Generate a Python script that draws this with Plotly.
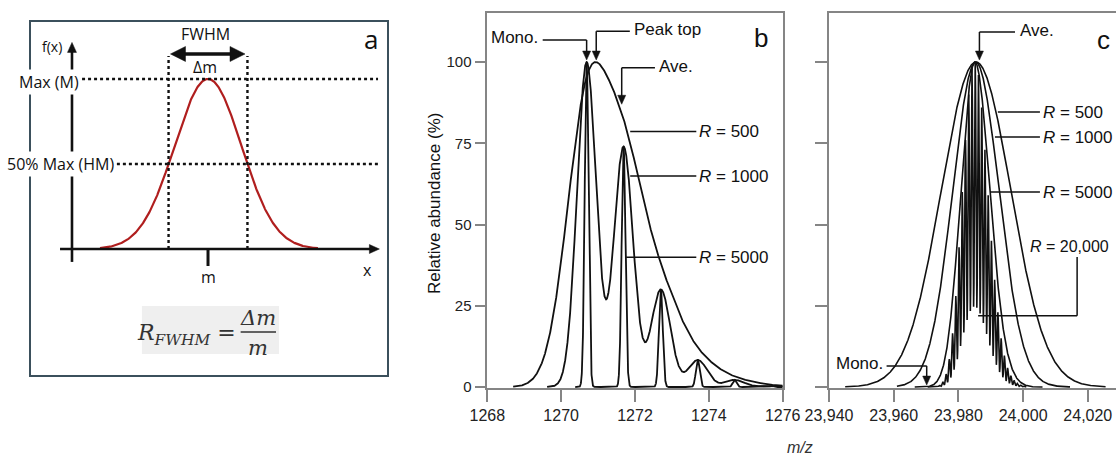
import numpy as np
import plotly.graph_objects as go

# ---------------- data ----------------
# panel a: schematic peak (arbitrary units)
a_center = 5.0          # m
a_fwhm = 2.9            # Δm
a_max = 1.0             # Max (M)
a_extent = [1.03, 9.04]

# panel b: peptide isotope sticks (m/z, relative abundance %)
b_iso_mz = [1270.69, 1271.69, 1272.70, 1273.70, 1274.70, 1275.70]
b_iso_ab = [100, 74, 30, 8.3, 2.2, 0.4]
b_res = [500, 1000, 5000]
b_sigma = [0.55, 0.26, 0.052]          # peak width (Da) read per resolution
b_start = [1268.7, 1269.62, 1270.38]
b_end = [1276.0, 1276.0, 1276.0]

# panel c: protein isotope sticks
c_mono = 23970.2
c_iso_n = [3, 4, 5, 6, 7, 8, 9, 10, 11, 12, 13, 14, 15, 16, 17, 18, 19, 20,
           21, 22, 23, 24, 25, 26, 27, 28, 29, 30]
c_iso_ab = [0.13, 0.5, 1.6, 4.0, 8.6, 16.5, 28, 43, 60, 76, 90, 98, 100, 96,
            86, 73, 59, 45, 33, 23, 15, 9.7, 5.9, 3.5, 2.0, 1.1, 0.6, 0.3]
c_res = [500, 1000, 5000, 20000]
c_sigma = [10.0, 6.0, 2.2, 0.245]
c_start = [23945.0, 23961.0, 23966.5, 23970.5]
c_end = [24025.5, 24014.5, 24006.0, 24001.0]

b_xticks = [1268, 1270, 1272, 1274, 1276]
c_xticks = [23940, 23960, 23980, 24000, 24020]
y_ticks = [0, 25, 50, 75, 100]

W, H = 1116, 455
def px(x): return x / W
def py(y): return 1 - y / H

INK = "#111111"
AX = "#858585"
SANS = "Liberation Sans, Arial, sans-serif"

# axis geometry (pixels)
A_X = (31, 387, -1.507, 11.58)       # panel a: px0, px1, v0, v1
A_Y = (375, 22, -0.741, 1.335)
B_X = (487.3, 782.7, 1268, 1276)
C_X = (829, W, 23940, 23940 + (W - 829) / 3.235)
Y_BC = (388.0, 13.25, -0.3, 115)

def upp(ax):  # data units per pixel
    return abs(ax[3] - ax[2]) / abs(ax[1] - ax[0])

SCALE = {"x3": upp(A_X), "y3": upp(A_Y), "x": upp(B_X), "y": upp(Y_BC),
         "x2": upp(C_X), "y2": upp(Y_BC)}


def profile(x, centers, abund, sigma):
    c = np.asarray(centers, float)[:, None]
    a = np.asarray(abund, float)[:, None]
    return (a * np.exp(-0.5 * ((x[None, :] - c) / sigma) ** 2)).sum(axis=0)


fig = go.Figure()

# ---------------- panel a ----------------
xa = np.linspace(a_extent[0], a_extent[1], 400)
sig_a = a_fwhm / (2 * np.sqrt(2 * np.log(2)))
ya = a_max * np.exp(-0.5 * ((xa - a_center) / sig_a) ** 2)
fig.add_trace(go.Scatter(x=xa, y=ya, mode="lines", xaxis="x3", yaxis="y3",
                         line=dict(color="#b01e1e", width=2.2), hoverinfo="skip"))

# ---------------- panel b ----------------
for s, st, en in zip(b_sigma, b_start, b_end):
    xx = np.arange(st, en + 1e-9, 0.002)
    full = profile(np.arange(1268, 1276, 0.002), b_iso_mz, b_iso_ab, s)
    yy = 100 * profile(xx, b_iso_mz, b_iso_ab, s) / full.max()
    fig.add_trace(go.Scatter(x=xx, y=yy, mode="lines", xaxis="x", yaxis="y",
                             line=dict(color=INK, width=1.8), hoverinfo="skip"))

# ---------------- panel c ----------------
c_iso_mz = [c_mono + n for n in c_iso_n]
for s, st, en in zip(c_sigma, c_start, c_end):
    step = 0.01 if s < 1 else 0.05
    xx = np.arange(st, en + 1e-9, step)
    full = profile(np.arange(23940, 24030, 0.01), c_iso_mz, c_iso_ab, s)
    yy = 100 * profile(xx, c_iso_mz, c_iso_ab, s) / full.max()
    fig.add_trace(go.Scatter(x=xx, y=yy, mode="lines", xaxis="x2", yaxis="y2",
                             line=dict(color=INK, width=1.6), hoverinfo="skip"))

shapes = []
annos = []


def hline(xr, yr, x0, x1, y, color=INK, width=1.5, dash=None):
    shapes.append(dict(type="line", xref=xr, yref=yr, x0=x0, x1=x1, y0=y, y1=y,
                       line=dict(color=color, width=width, dash=dash)))


def vline(xr, yr, x, y0, y1, color=INK, width=1.5, dash=None):
    shapes.append(dict(type="line", xref=xr, yref=yr, x0=x, x1=x, y0=y0, y1=y1,
                       line=dict(color=color, width=width, dash=dash)))


def head(xr, yr, x, y, direction, length=9, half=4):
    """filled triangular arrow head with its tip at (x, y)"""
    kx, ky = SCALE[xr], SCALE[yr]
    if direction == "down":
        p = [(x, y), (x - half * kx, y + length * ky), (x + half * kx, y + length * ky)]
    elif direction == "up":
        p = [(x, y), (x - half * kx, y - length * ky), (x + half * kx, y - length * ky)]
    elif direction == "right":
        p = [(x, y), (x - length * kx, y + half * ky), (x - length * kx, y - half * ky)]
    else:
        p = [(x, y), (x + length * kx, y + half * ky), (x + length * kx, y - half * ky)]
    path = "M {} {} L {} {} L {} {} Z".format(*[v for q in p for v in q])
    shapes.append(dict(type="path", xref=xr, yref=yr, path=path, fillcolor=INK,
                       line=dict(color=INK, width=0.5)))


def label(xr, yr, x, y, text, anchor="left", size=17, font=SANS, color=INK,
          angle=0, bg=None):
    d = dict(xref=xr, yref=yr, x=x, y=y, text=text, showarrow=False,
             xanchor=anchor, yanchor="middle", textangle=angle,
             font=dict(family=font, size=size, color=color))
    if bg:
        d.update(bgcolor=bg, borderpad=1)
    annos.append(d)


# ---- panel a decorations
half = a_fwhm / 2
vline("x3", "y3", a_center - half, 0, 1.135, width=2.4, dash="dot")
vline("x3", "y3", a_center + half, 0, 1.135, width=2.4, dash="dot")
hline("x3", "y3", 0.37, 11.25, a_max, width=2.4, dash="dot")
hline("x3", "y3", 1.65, 11.25, a_max / 2, width=2.4, dash="dot")
vline("x3", "y3", 0, -0.076, 1.16, width=2.6)
head("x3", "y3", 0, 1.215, "up", 10, 4.5)
hline("x3", "y3", -0.44, 11.0, 0, width=2.6)
head("x3", "y3", 11.3, 0, "right", 10, 4.5)
vline("x3", "y3", a_center, 0, -0.1, width=3)
hline("x3", "y3", 3.9, 6.1, 1.147, width=3.6)
head("x3", "y3", 6.36, 1.147, "right", 15, 7.5)
head("x3", "y3", 3.62, 1.147, "left", 15, 7.5)
shapes.append(dict(type="rect", xref="x3", yref="y3", x0=2.57, x1=7.61, y0=-0.335,
                   y1=-0.618, fillcolor="#efefef", line=dict(width=0), layer="below"))
hline("x3", "y3", 6.2, 7.5, -0.488, width=1.3, color="#333")
AF = "Open Sans, Noto Sans, sans-serif"
label("x3", "y3", 4.89, 1.262, "FWHM", "center", 16, AF)
label("x3", "y3", 4.89, 1.068, "Δm", "center", 16, AF)
label("x3", "y3", -0.74, 1.19, "f(x)", "center", 14, AF)
label("x3", "y3", 0.33, 0.985, "Max (M)", "right", 16, AF, bg="white")
label("x3", "y3", 1.63, 0.5, "50% Max (HM)", "right", 16, AF, bg="white")
label("x3", "y3", a_center, -0.165, "m", "center", 16, AF)
label("x3", "y3", 10.85, -0.125, "x", "center", 16, AF)
label("x3", "y3", 11.0, 1.235, "a", "center", 26, AF)
SERIF = "DejaVu Serif, serif"
label("x3", "y3", 4.22, -0.505, "<i>R</i><sub><i>FWHM</i></sub> =", "center", 22, SERIF, "#333")
label("x3", "y3", 6.83, -0.405, "<i>Δm</i>", "center", 21, SERIF, "#333")
label("x3", "y3", 6.83, -0.58, "<i>m</i>", "center", 21, SERIF, "#333")

# ---- panel b leaders
hline("x", "y", 1269.5, 1270.69, 106.8)
vline("x", "y", 1270.69, 106.8, 102)
head("x", "y", 1270.69, 100.6, "down")
label("x", "y", 1269.42, 107.5, "Mono.", "right")
hline("x", "y", 1270.95, 1271.86, 109.5)
vline("x", "y", 1270.95, 109.5, 102)
head("x", "y", 1270.95, 100.6, "down")
label("x", "y", 1271.93, 110.0, "Peak top")
hline("x", "y", 1271.64, 1272.54, 98.2)
vline("x", "y", 1271.64, 98.2, 89)
head("x", "y", 1271.64, 87.0, "down")
label("x", "y", 1272.6, 98.6, "Ave.")
for y0, x0, t in [(78.6, 1271.87, "500"), (64.9, 1271.87, "1000"), (39.9, 1271.76, "5000")]:
    hline("x", "y", x0, 1273.66, y0)
    label("x", "y", 1273.68, y0, "<i>R</i> = " + t)
label("paper", "paper", px(761), py(38), "b", "center", 26)

# ---- panel c leaders
hline("x2", "y2", 23986.5, 23997.5, 109.2)
vline("x2", "y2", 23986.5, 109.2, 102)
head("x2", "y2", 23986.5, 100.6, "down")
label("x2", "y2", 23998.4, 109.8, "Ave.")
for y0, x0, t in [(84.6, 23992.2, "500"), (76.9, 23991.3, "1000"), (60.0, 23989.8, "5000")]:
    hline("x2", "y2", x0, 24005.2, y0)
    label("x2", "y2", 24005.6, y0, "<i>R</i> = " + t)
label("x2", "y2", 24001.6, 43.2, "<i>R</i> = 20,000", size=16)
vline("x2", "y2", 24016.7, 40.0, 21.9)
hline("x2", "y2", 23986.1, 24016.7, 21.9)
hline("x2", "y2", 23957.8, c_mono, 6.5)
vline("x2", "y2", c_mono, 6.5, 2)
head("x2", "y2", c_mono, 0.6, "down")
label("x2", "y2", 23957.3, 7.1, "Mono.", "right")
label("paper", "paper", px(1103), py(40), "c", "center", 26)

# axis titles
label("paper", "paper", px(435), py(204), "Relative abundance (%)", "center", 17, angle=-90)
label("paper", "paper", px(800), py(447), "<i>m/z</i>", "center", 16, color="#333")

ydom = [py(Y_BC[0]), py(Y_BC[1])]
common_axis = dict(showgrid=False, zeroline=False, showline=True, linecolor=AX,
                   linewidth=1.5, ticks="outside", tickcolor=AX, tickwidth=1.5,
                   tickfont=dict(family=SANS, size=16, color="#222"))

fig.update_layout(
    width=W, height=H,
    margin=dict(l=0, r=0, t=0, b=0, pad=0, autoexpand=False),
    paper_bgcolor="white", plot_bgcolor="rgba(0,0,0,0)", showlegend=False,
    xaxis=dict(common_axis, domain=[px(B_X[0]), px(B_X[1])], range=[B_X[2], B_X[3]],
               tickvals=b_xticks, ticklen=12, mirror=True, anchor="y"),
    yaxis=dict(common_axis, domain=ydom, range=[Y_BC[2], Y_BC[3]], tickvals=y_ticks,
               ticklen=11, mirror=True, anchor="x",
               tickfont=dict(family=SANS, size=15, color="#222")),
    xaxis2=dict(common_axis, domain=[px(C_X[0]), 1.0], range=[C_X[2], C_X[3]],
                tickvals=c_xticks, tickformat=",d", ticklen=12, mirror=True,
                anchor="y2"),
    yaxis2=dict(common_axis, domain=ydom, range=[Y_BC[2], Y_BC[3]], tickvals=y_ticks,
                showticklabels=False, ticklen=12, mirror=False, anchor="x2"),
    xaxis3=dict(domain=[px(A_X[0]), px(A_X[1])], range=[A_X[2], A_X[3]],
                showgrid=False, zeroline=False, showticklabels=False, ticks="",
                showline=True, mirror=True, linecolor="#3b505c", linewidth=2,
                anchor="y3"),
    yaxis3=dict(domain=[py(A_Y[0]), py(A_Y[1])], range=[A_Y[2], A_Y[3]],
                showgrid=False, zeroline=False, showticklabels=False, ticks="",
                showline=True, mirror=True, linecolor="#3b505c", linewidth=2,
                anchor="x3"),
    shapes=shapes, annotations=annos,
)

fig.write_html("out.html")
